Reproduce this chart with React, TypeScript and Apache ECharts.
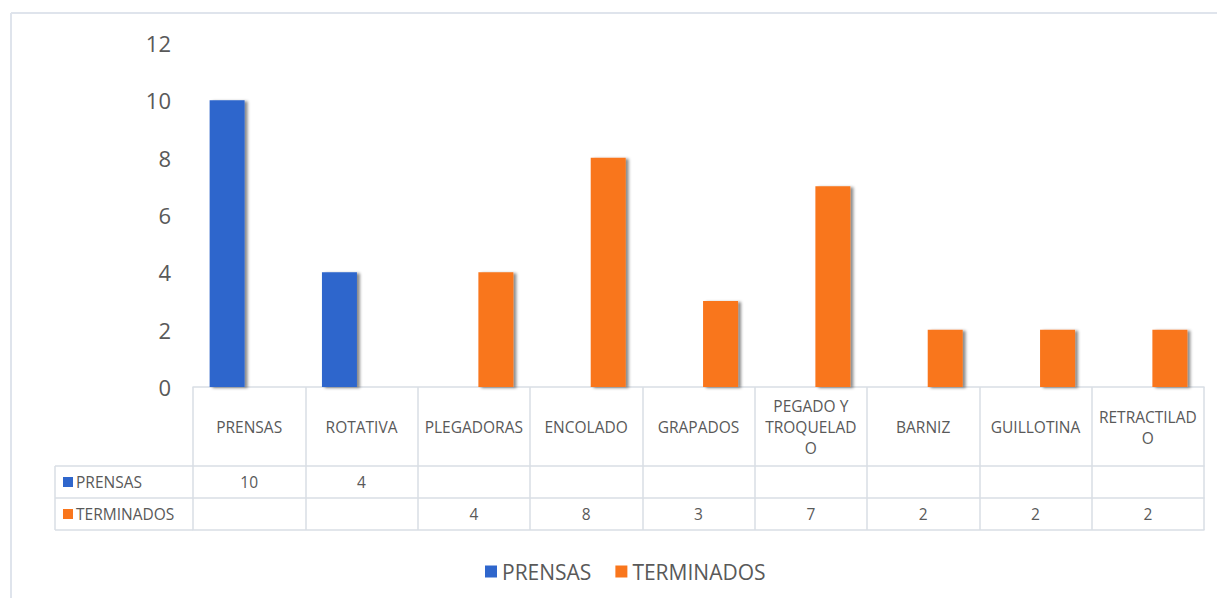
import React, { useEffect, useRef } from "react";
import * as echarts from "echarts";

// Equipment count per machine type
const categories = [
  "PRENSAS",
  "ROTATIVA",
  "PLEGADORAS",
  "ENCOLADO",
  "GRAPADOS",
  "PEGADO Y TROQUELADO",
  "BARNIZ",
  "GUILLOTINA",
  "RETRACTILADO",
];
// Header labels as they wrap inside the data-table cells
const categoryLabels = [
  "PRENSAS",
  "ROTATIVA",
  "PLEGADORAS",
  "ENCOLADO",
  "GRAPADOS",
  "PEGADO Y\nTROQUELAD\nO",
  "BARNIZ",
  "GUILLOTINA",
  "RETRACTILAD\nO",
];
const prensas: (number | null)[] = [10, 4, null, null, null, null, null, null, null];
const terminados: (number | null)[] = [null, null, 4, 8, 3, 7, 2, 2, 2];
const yTicks = { min: 0, max: 12, interval: 2 };

const BLUE = "#2F66CC";
const ORANGE = "#F9761C";
const TEXT = "#595959";
const RULE = "#D9DEE5";
const FONT = "'Open Sans', 'Noto Sans', sans-serif";
const TABLE_SIZE = 15.5;

export default function App() {
  const ref = useRef<HTMLDivElement>(null);

  useEffect(() => {
    document.body.style.margin = "0";
    const chart = echarts.init(ref.current!, undefined, { renderer: "svg" });

    const tableAxis = (offset: number, tickLen: number, values: (number | null)[] | null, margin: number) => ({
      type: "category" as const,
      data: categories,
      position: "bottom" as const,
      offset,
      gridIndex: 0,
      axisLine: { show: true, lineStyle: { color: RULE, width: 1.5 } },
      axisTick: { show: tickLen > 0, length: tickLen, interval: 0, lineStyle: { color: RULE, width: 1.5 } },
      axisLabel: {
        show: values !== null,
        interval: 0,
        margin,
        verticalAlign: "middle",
        fontFamily: FONT,
        fontSize: TABLE_SIZE,
        color: TEXT,
        formatter: (_v: string, i: number) => {
          const v = values ? values[i] : null;
          return v === null || v === undefined ? "" : String(v);
        },
      },
    });

    const shadow = {
      shadowColor: "rgba(0,0,0,0.45)",
      shadowBlur: 3,
      shadowOffsetX: 3,
      shadowOffsetY: 1,
    };

    const rowLabel = (y: number, color: string, name: string) => [
      { type: "rect", shape: { x: 63, y: y - 5, width: 10, height: 10 }, style: { fill: color } },
      {
        type: "text",
        x: 76,
        y,
        style: { text: name, fill: TEXT, font: `${TABLE_SIZE}px ${FONT}`, verticalAlign: "middle" },
      },
    ];

    chart.setOption({
      animation: false,
      backgroundColor: "#ffffff",
      grid: { left: 193, right: 13, top: 43, bottom: 211, containLabel: false },
      legend: {
        data: ["PRENSAS", "TERMINADOS"],
        left: 480,
        top: 556,
        icon: "rect",
        itemWidth: 12,
        itemHeight: 12,
        itemGap: 24,
        itemStyle: { shadowBlur: 0, shadowOffsetX: 0, shadowOffsetY: 0 },
        textStyle: { fontFamily: FONT, fontSize: 21, color: TEXT },
      },
      xAxis: [
        {
          type: "category",
          data: categories,
          position: "bottom",
          axisLine: { show: true, lineStyle: { color: RULE, width: 1.5 } },
          axisTick: { show: true, length: 79, interval: 0, lineStyle: { color: RULE, width: 1.5 } },
          axisLabel: {
            interval: 0,
            margin: 40,
            verticalAlign: "middle",
            lineHeight: 21,
            fontFamily: FONT,
            fontSize: TABLE_SIZE,
            color: TEXT,
            formatter: (_v: string, i: number) => categoryLabels[i],
          },
        },
        tableAxis(79, 32, prensas, 16),
        tableAxis(111, 32, terminados, 16),
        tableAxis(143, 0, null, 0),
      ],
      yAxis: {
        type: "value",
        min: yTicks.min,
        max: yTicks.max,
        interval: yTicks.interval,
        axisLine: { show: false },
        axisTick: { show: false },
        splitLine: { show: false },
        axisLabel: { margin: 22, fontFamily: FONT, fontSize: 22, color: TEXT },
      },
      series: [
        {
          name: "PRENSAS",
          type: "bar",
          data: prensas,
          barWidth: 35,
          barGap: "26%",
          itemStyle: { color: BLUE, ...shadow },
        },
        {
          name: "TERMINADOS",
          type: "bar",
          data: terminados,
          barWidth: 35,
          barGap: "26%",
          itemStyle: { color: ORANGE, ...shadow },
        },
      ],
      graphic: [
        // outer frame
        { type: "line", shape: { x1: 11, y1: 13, x2: 1217, y2: 13 }, style: { stroke: "#DFE4EC", lineWidth: 2 } },
        { type: "line", shape: { x1: 11, y1: 13, x2: 11, y2: 598 }, style: { stroke: "#DFE4EC", lineWidth: 2 } },
        // data-table legend column
        { type: "line", shape: { x1: 55, y1: 466, x2: 193, y2: 466 }, style: { stroke: RULE, lineWidth: 1.5 } },
        { type: "line", shape: { x1: 55, y1: 498, x2: 193, y2: 498 }, style: { stroke: RULE, lineWidth: 1.5 } },
        { type: "line", shape: { x1: 55, y1: 530, x2: 193, y2: 530 }, style: { stroke: RULE, lineWidth: 1.5 } },
        { type: "line", shape: { x1: 55, y1: 466, x2: 55, y2: 530 }, style: { stroke: RULE, lineWidth: 1.5 } },
        ...rowLabel(482, BLUE, "PRENSAS"),
        ...rowLabel(514, ORANGE, "TERMINADOS"),
      ],
    });

    return () => chart.dispose();
  }, []);

  return <div ref={ref} style={{ width: 1217, height: 598 }} />;
}
